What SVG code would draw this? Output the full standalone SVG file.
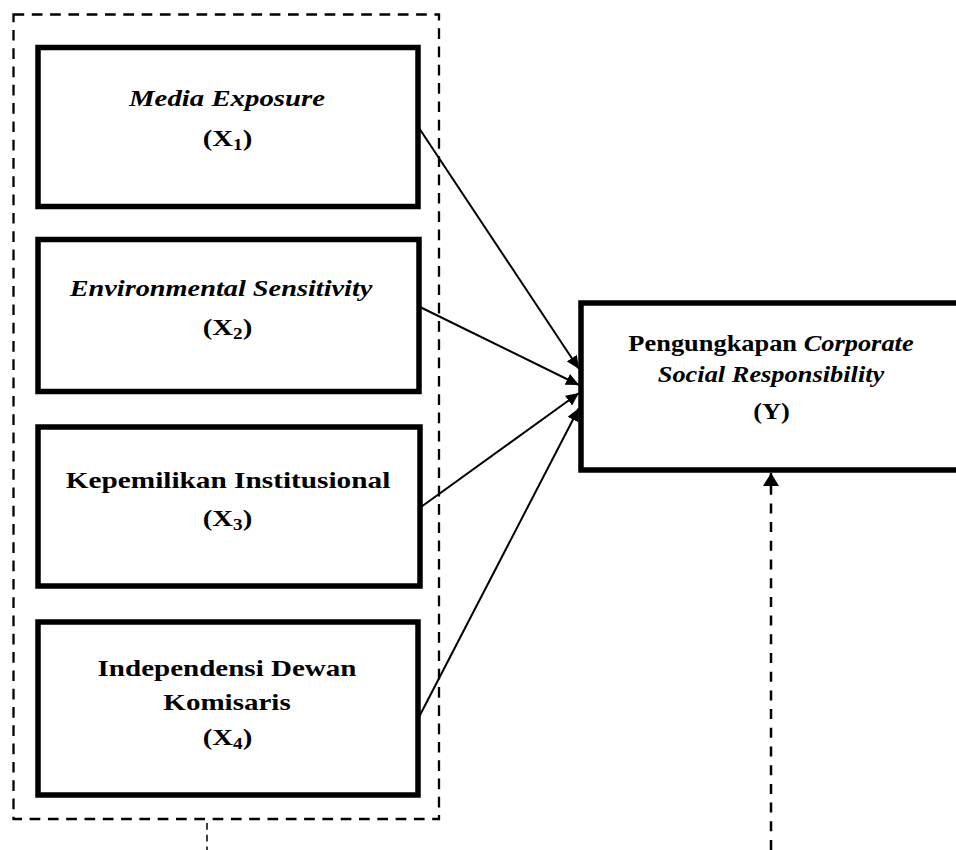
<svg xmlns="http://www.w3.org/2000/svg" width="956" height="850" viewBox="0 0 956 850">
  <style>
    .box { fill: #ffffff; stroke: #000000; stroke-width: 5.5; }
    .lbl { font-family: "Liberation Serif", "Times New Roman", serif; font-size: 24px; font-weight: bold; fill: #000000; text-anchor: middle; }
    .it { font-style: italic; }
    .sub { font-size: 16px; }
    .conn { stroke: #000000; stroke-width: 2; fill: none; }
    .group-frame { fill: none; stroke: #000000; stroke-width: 2.3; stroke-dasharray: 10.7 7.6; }
  </style>
  <defs>
    <marker id="arrow" markerUnits="userSpaceOnUse" markerWidth="14" markerHeight="12" refX="13" refY="6" orient="auto">
      <polygon points="0,0 13,6 0,12" fill="#000000"/>
    </marker>
    <marker id="arrowUp" markerUnits="userSpaceOnUse" markerWidth="14" markerHeight="16" refX="13" refY="8" orient="auto">
      <polygon points="0,0 13,8 0,16" fill="#000000"/>
    </marker>
  </defs>
  <rect width="956" height="850" fill="#ffffff"/>

  <g id="independent-group">
    <rect class="group-frame" x="13.5" y="14.5" width="425.5" height="804.5"/>
  </g>

  <g id="x1">
    <rect class="box" x="38" y="47.5" width="380" height="159"/>
    <text class="lbl it" transform="translate(227,106) scale(1.2,1)">Media Exposure</text>
    <text class="lbl" transform="translate(227.5,146) scale(1.2,1)">(X<tspan class="sub" dy="4">1</tspan><tspan dy="-4">)</tspan></text>
  </g>

  <g id="x2">
    <rect class="box" x="38" y="239.5" width="381" height="152"/>
    <text class="lbl it" transform="translate(221,296) scale(1.18,1)">Environmental Sensitivity</text>
    <text class="lbl" transform="translate(227.5,335) scale(1.2,1)">(X<tspan class="sub" dy="4">2</tspan><tspan dy="-4">)</tspan></text>
  </g>

  <g id="x3">
    <rect class="box" x="38" y="427" width="382" height="159"/>
    <text class="lbl" transform="translate(228,488) scale(1.22,1)">Kepemilikan Institusional</text>
    <text class="lbl" transform="translate(227.5,526) scale(1.2,1)">(X<tspan class="sub" dy="4">3</tspan><tspan dy="-4">)</tspan></text>
  </g>

  <g id="x4">
    <rect class="box" x="38" y="622" width="380" height="173"/>
    <text class="lbl" transform="translate(227,676) scale(1.21,1)">Independensi Dewan</text>
    <text class="lbl" transform="translate(227,710) scale(1.21,1)">Komisaris</text>
    <text class="lbl" transform="translate(227.5,745) scale(1.2,1)">(X<tspan class="sub" dy="4">4</tspan><tspan dy="-4">)</tspan></text>
  </g>

  <g id="y">
    <rect class="box" x="581" y="303" width="420" height="167"/>
    <text class="lbl" transform="translate(771,351) scale(1.1,1)">Pengungkapan <tspan class="it">Corporate</tspan></text>
    <text class="lbl it" transform="translate(771,382) scale(1.1,1)">Social Responsibility</text>
    <text class="lbl" transform="translate(771.5,419) scale(1.1,1)">(Y)</text>
  </g>

  <g id="connectors">
    <line class="conn" x1="419" y1="128" x2="579" y2="369" marker-end="url(#arrow)"/>
    <line class="conn" x1="420" y1="307" x2="579" y2="385" marker-end="url(#arrow)"/>
    <line class="conn" x1="421" y1="507" x2="579" y2="393" marker-end="url(#arrow)"/>
    <line class="conn" x1="419" y1="717" x2="579" y2="408" marker-end="url(#arrow)"/>
    <line x1="771" y1="850" x2="771" y2="473" stroke="#000000" stroke-width="2.5" stroke-dasharray="10 8.7" marker-end="url(#arrowUp)"/>
    <line x1="207" y1="823" x2="207" y2="850" stroke="#000000" stroke-width="1.5" stroke-dasharray="6.7 5"/>
  </g>
</svg>
